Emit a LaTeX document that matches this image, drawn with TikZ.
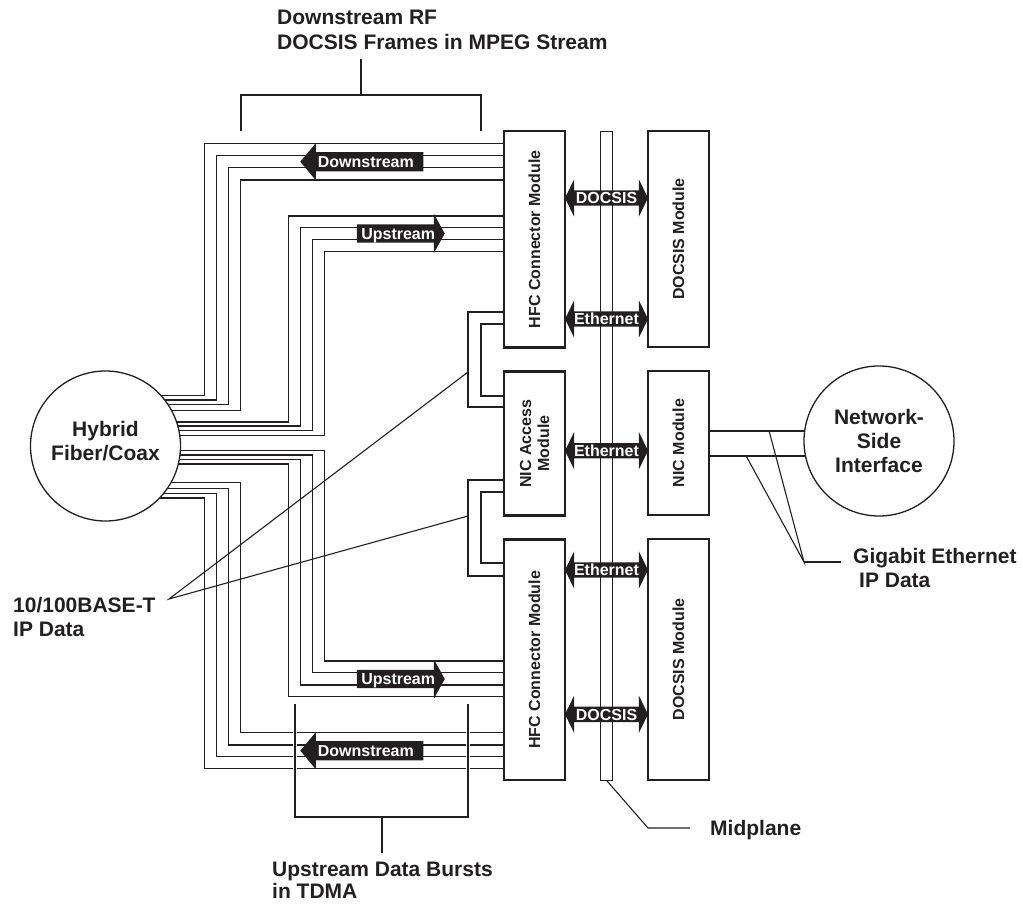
\documentclass[tikz,border=0pt]{standalone}
\usepackage{fontspec}
\setmainfont{Liberation Sans}
\usetikzlibrary{shapes.arrows,backgrounds}
\definecolor{ink}{RGB}{35,31,32}
\tikzstyle{module}=[draw=ink,line width=2.5pt,rotate=90,minimum height=61pt,inner sep=0pt,align=center,text=ink,font=\fontsize{16}{18}\selectfont\bfseries]
\tikzstyle{wire}=[draw=ink,line width=1.4pt]
\tikzstyle{lead}=[draw=ink,line width=1.1pt]
\tikzstyle{lbl}=[text=ink,inner sep=0pt,align=left,font=\fontsize{21}{24}\selectfont\bfseries]
\tikzstyle{flow}=[fill=ink,text=white,font=\fontsize{16}{16}\selectfont\bfseries,text height=11.5pt,text depth=0pt,inner xsep=0pt]
\tikzstyle{dsarrow}=[flow,single arrow,shape border rotate=180,single arrow head extend=9pt,single arrow tip angle=100,inner ysep=3.75pt,minimum width=37pt,minimum height=123pt,anchor=tip]
\tikzstyle{usarrow}=[flow,single arrow,single arrow head extend=10.5pt,single arrow tip angle=122,inner ysep=3.25pt,minimum width=39pt,minimum height=88pt,anchor=tip]
\tikzstyle{biarrow}=[flow,double arrow,double arrow head extend=11pt,double arrow tip angle=128,inner ysep=1.75pt,minimum width=37pt,minimum height=83pt]
\newcommand{\newModule}[4]{\node[module,minimum width=#3pt](#1) at (#4){#2};}
\newcommand{\newFlow}[4]{\node[#3](#1) at (#4){#2};}
\begin{document}
\begin{tikzpicture}[x=1pt,y=-1pt]
  \useasboundingbox (0,0) rectangle (1023,907);
  % modules (rotated: .north is the left side, .south the right side)
  \newModule{hfcA}{HFC Connector Module}{216.7}{534.5,239.3}
  \newModule{docA}{DOCSIS Module}{216}{678.5,239}
  \newModule{nicA}{NIC Access\\Module}{144}{534.5,443.6}
  \newModule{nic}{NIC Module}{144}{678.5,443}
  \newModule{hfcB}{HFC Connector Module}{240.5}{534.5,659.8}
  \newModule{docB}{DOCSIS Module}{241}{678.5,659.5}
  \node[draw=ink,line width=1pt,minimum width=12pt,minimum height=648.3pt,inner sep=0pt] (mid) at (606.7,455.9) {};
  % the two clouds
  \node[circle,lbl,align=center,draw=ink,line width=1.3pt,fill=white,minimum size=150pt,text depth=10pt] (hyb) at (105.5,446) {Hybrid\\Fiber/Coax};
  \node[circle,lbl,align=center,draw=ink,line width=1.3pt,fill=white,minimum size=150pt] (net) at (879,441) {Network-\\Side\\Interface};
  \begin{scope}[on background layer]
    \foreach \ym/\xv/\yc/\m in {143.3/204.3/395.7/hfcA,155.7/216.7/400/hfcA,167.7/228.7/404.3/hfcA,180/240.7/410.3/hfcA,
        216/288.7/422/hfcA,227.7/300.7/426/hfcA,239.3/312.7/430.7/hfcA,251.7/324.7/435.3/hfcA,
        661/324.7/450.7/hfcB,672.7/312.7/455/hfcB,685/300.7/459.7/hfcB,696.7/288.7/464/hfcB,
        732.7/240.7/482.7/hfcB,745/228.7/488.7/hfcB,756.7/216.7/493.3/hfcB,768.3/204.3/498/hfcB}
      \draw[wire] (\m.north |- 0,\ym) -| (\xv,\yc) -- (hyb.center |- 0,\yc);
    \draw[wire,line width=2.2pt] (nic.south |- 0,430.7) -- (net.center |- 0,430.7);
    \draw[wire,line width=2.2pt] (nic.south |- 0,455.7) -- (net.center |- 0,455.7);
  \end{scope}
  % 10/100 loops
  \draw[wire] (hfcA.north |- 0,312) -| (468,407) -- (nicA.north |- 0,407);
  \draw[wire] (hfcA.north |- 0,324) -| (481,396) -- (nicA.north |- 0,396);
  \draw[wire] (nicA.north |- 0,480) -| (468,576) -- (hfcB.north |- 0,576);
  \draw[wire] (nicA.north |- 0,492) -| (481,563) -- (hfcB.north |- 0,563);
  % flow arrows
  \newFlow{dsA}{Downstream}{dsarrow}{300,161.7}
  \newFlow{usA}{Upstream}{usarrow}{445,233.5}
  \newFlow{usB}{Upstream}{usarrow}{445,679}
  \newFlow{dsB}{Downstream}{dsarrow}{300,750.7}
  \newFlow{bA}{DOCSIS}{biarrow}{606.5,198}
  \newFlow{bB}{Ethernet}{biarrow}{606.5,319}
  \newFlow{bC}{Ethernet}{biarrow}{606.5,450.7}
  \newFlow{bD}{Ethernet}{biarrow}{606.5,570}
  \newFlow{bE}{DOCSIS}{biarrow}{606.5,714.3}
  % brackets
  \draw[lead] (241,131) -- (241,95) -- (481,95) -- (481,131);
  \draw[lead] (361,95) -- (361,59);
  \draw[lead,preaction={draw=white,line width=4.5pt}] (295,704) -- (295,817) -- (468,817) -- (468,704);
  \draw[lead] (382,817) -- (382,853);
  % labels and leaders
  \node[lbl,anchor=north west,font=\fontsize{21}{25}\selectfont\bfseries] (dsLbl) at (277,10) {Downstream RF\\DOCSIS Frames in MPEG Stream};
  \node[lbl,anchor=north west,font=\fontsize{21}{22}\selectfont\bfseries] (usLbl) at (272,861.7) {Upstream Data Bursts\\in TDMA};
  \coordinate (tb) at (169,599);
  \coordinate (tA) at (468,372);
  \coordinate (tB) at (468,516);
  \draw[lead] (tA) -- (tb) -- (tB);
  \node[lbl,anchor=north west] (tLbl) at (13,597.5) {10/100BASE-T\\IP Data};
  \coordinate (gb) at (804,562);
  \coordinate (gA) at (769,430.7);
  \coordinate (gB) at (746,455.7);
  \coordinate (gE) at (841,562);
  \draw[lead] (gA) -- (gb) -- (gB);
  \draw[lead] (gb) -- (gE);
  \node[lbl,anchor=north west] (gLbl) at (853,548.5) {Gigabit Ethernet\\\hspace*{6pt}IP Data};
  \coordinate (mb) at (648,828);
  \coordinate (mE) at (690,828);
  \draw[lead] (mid.south) -- (mb) -- (mE);
  \node[lbl,anchor=base west] (mLbl) at (710,835.5) {Midplane};
\end{tikzpicture}
\end{document}
